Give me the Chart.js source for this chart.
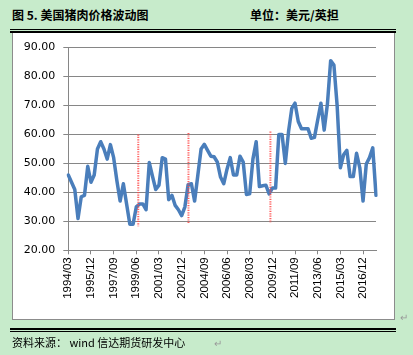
<!DOCTYPE html>
<html>
<head>
<meta charset="utf-8">
<script src="https://cdn.jsdelivr.net/npm/chart.js@4/dist/chart.umd.min.js"></script>
<style>
  html, body { margin: 0; padding: 0; }
  body { width: 413px; height: 355px; background: #C7EBCB; position: relative; overflow: hidden; font-family: "Noto Sans CJK SC", sans-serif; }
  .title { position: absolute; top: 6px; left: 12px; font-size: 12px; font-weight: bold; color: #000; white-space: nowrap; }
  .unit { position: absolute; top: 6px; left: 250px; font-size: 12px; font-weight: bold; color: #000; white-space: nowrap; }
  .hl { position: absolute; left: 10px; width: 386px; background: #000; }
  .box { position: absolute; left: 12px; top: 32px; width: 381px; height: 287px; background: #fff; border: 1px solid #8c8c8c; border-top: none; }
  .chartwrap { position: absolute; left: 13px; top: 33px; width: 380px; height: 286px; }
  .foot { position: absolute; top: 334px; left: 12px; font-size: 11px; color: #000; white-space: nowrap; }
  .mark { position: absolute; font-size: 10px; color: #999; }
</style>
</head>
<body>
<div class="title">图 5. 美国猪肉价格波动图</div>
<div class="unit">单位：美元/英担</div>
<div class="box"></div>
<div class="hl" style="top:29px;height:1px;"></div>
<div class="hl" style="top:31px;height:2px;"></div>
<div class="chartwrap"><canvas id="c"></canvas></div>
<div class="hl" style="top:328px;height:2px;"></div>
<div class="hl" style="top:331px;height:1px;"></div>
<div class="foot">资料来源： wind 信达期货研发中心</div>
<div class="mark" style="left:400px;top:309px;">↵</div>
<div class="mark" style="left:214px;top:335px;">↵</div>
<script>
// Quarterly categories 1994/03 .. 2017/12
const years = [1994,1995,1996,1997,1998,1999,2000,2001,2002,2003,2004,2005,2006,2007,2008,2009,2010,2011,2012,2013,2014,2015,2016,2017];
const months = ["03","06","09","12"];
const categories = [];
years.forEach(y => months.forEach(m => categories.push(y + "/" + m)));

// Pork price, USD per cwt
const porkPrice = [
  46, 43.5, 41, 31, 38.5, 39, 49, 43.5, 46, 55,
  57.5, 55, 51.5, 56.5, 52, 44, 37, 43, 36, 29,
  29, 35, 36, 36, 34, 50.3, 45.5, 41, 42.5, 52,
  51.5, 37.5, 39, 35.5, 34, 32, 35, 42.7, 43, 37,
  46, 55, 56.6, 54.5, 52.5, 52.3, 50.5, 45.3, 43, 48,
  52, 46, 46, 52.5, 50.5, 39.3, 39.5, 51.5, 57.5, 42,
  42.3, 42.5, 39.5, 41.5, 41.5, 60, 60, 50, 61, 69,
  70.8, 64.5, 62, 62, 62, 58.7, 59, 65, 70.8, 61.5,
  70.5, 85.5, 84, 70, 48.5, 53, 54.5, 45.5, 45.5, 53.5,
  48.5, 37, 49.8, 52, 55.4, 39
];

// Shown x tick labels (every 7th quarter)
const tickLabels = ["1994/03","1995/12","1997/09","1999/06","2001/03","2002/12","2004/09","2006/06","2008/03","2009/12","2011/09","2013/06","2015/03","2016/12"];

// Y axis range
const yMin = 20, yMax = 90, yStep = 10;

// Red dotted marker lines: category position (fractional index), top and bottom value
const markerPos = [21.6, 37.1, 62.4];
const markerTop = [60, 60.5, 61];
const markerBottom = [28.3, 29, 29.4];

const markerPlugin = {
  id: 'markers',
  afterDatasetsDraw(chart) {
    const ctx = chart.ctx, xs = chart.scales.x, ys = chart.scales.y;
    ctx.save();
    ctx.strokeStyle = 'rgba(255,70,70,0.85)';
    ctx.lineWidth = 2;
    ctx.setLineDash([1.2, 1.2]);
    markerPos.forEach((p, k) => {
      const x = xs.getPixelForValue(p);
      ctx.beginPath();
      ctx.moveTo(x, ys.getPixelForValue(markerTop[k]));
      ctx.lineTo(x, ys.getPixelForValue(markerBottom[k]));
      ctx.stroke();
    });
    ctx.restore();
  }
};

new Chart(document.getElementById('c'), {
  type: 'line',
  data: {
    labels: categories,
    datasets: [{
      data: porkPrice,
      borderColor: '#4A7EBB',
      borderWidth: 3.5,
      pointRadius: 0,
      tension: 0,
      fill: false,
      borderJoinStyle: 'round',
      borderCapStyle: 'round'
    }]
  },
  options: {
    responsive: true,
    maintainAspectRatio: false,
    animation: false,
    layout: { padding: { top: 12.7, right: 17, left: 0, bottom: 0 } },
    plugins: { legend: { display: false }, tooltip: { enabled: false } },
    scales: {
      x: {
        type: 'category',
        offset: false,
        afterFit(s) { s.height = 68.7; },
        grid: { drawOnChartArea: false, color: '#868686', tickLength: 4 },
        border: { color: '#868686', width: 1 },
        ticks: {
          autoSkip: false,
          maxRotation: 90,
          minRotation: 90,
          padding: 3,
          color: '#000',
          font: { family: 'Liberation Sans', size: 11.5 },
          callback(v, i) {
            const lab = categories[i];
            return tickLabels.includes(lab) ? lab : null;
          }
        }
      },
      y: {
        min: yMin,
        max: yMax,
        afterFit(s) { s.width = 55.3; },
        grid: { color: '#868686', tickLength: 5, lineWidth: 1 },
        border: { color: '#868686', width: 1 },
        ticks: {
          stepSize: yStep,
          padding: 8,
          color: '#000',
          font: { family: 'DejaVu Sans', size: 11 },
          callback(v) { return v.toFixed(2); }
        }
      }
    }
  },
  plugins: [markerPlugin]
});
</script>
</body>
</html>
